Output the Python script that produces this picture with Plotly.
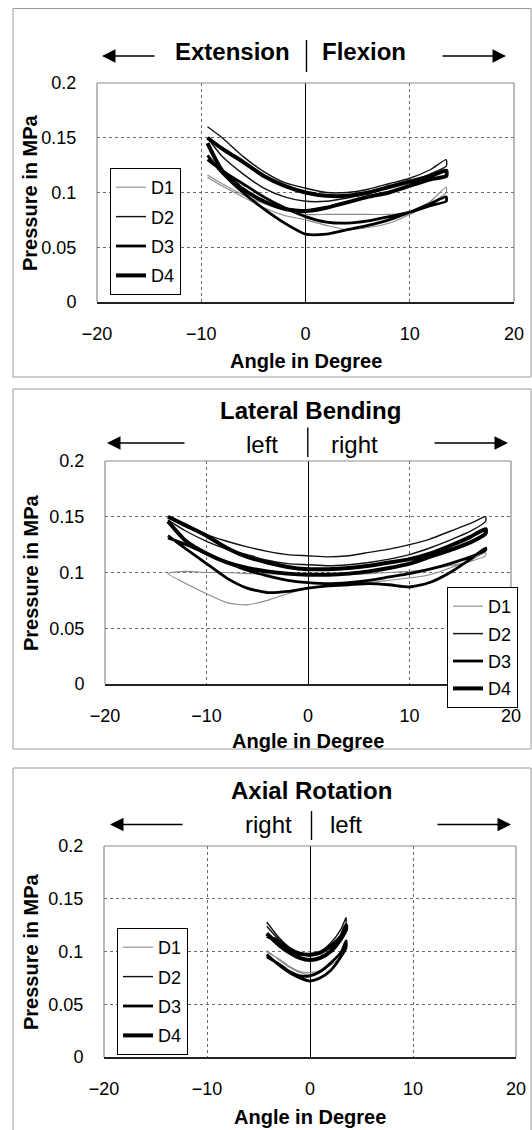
import plotly.graph_objects as go

W, H = 532, 1130

# ---------------- data ----------------
specimens = ["D1", "D2", "D3", "D4"]
x_ticks = [-20, -10, 0, 10, 20]
y_ticks = [0, 0.05, 0.1, 0.15, 0.2]
y_ticktext = ["0", "0.05", "0.1", "0.15", "0.2"]

# Panel 1: Extension / Flexion
fe_angle = [-9.4, -8, -6, -4, -2, 0, 2, 4, 6, 8, 10, 12, 13.5]
fe_d1_load = [0.116, 0.108, 0.098, 0.090, 0.084, 0.080, 0.080, 0.080, 0.080, 0.080, 0.082, 0.092, 0.105]
fe_d1_unload = [0.100, 0.090, 0.080, 0.072, 0.068, 0.066, 0.070, 0.075, 0.079, 0.086, 0.096, 0.106, 0.114]
fe_d2_load = [0.160, 0.150, 0.133, 0.119, 0.109, 0.104, 0.100, 0.100, 0.103, 0.108, 0.113, 0.121, 0.130]
fe_d2_unload = [0.124, 0.117, 0.110, 0.104, 0.099, 0.095, 0.092, 0.092, 0.096, 0.104, 0.117, 0.133, 0.150]
fe_d3_load = [0.134, 0.118, 0.100, 0.085, 0.072, 0.062, 0.062, 0.066, 0.070, 0.075, 0.082, 0.090, 0.096]
fe_d3_unload = [0.092, 0.088, 0.082, 0.078, 0.074, 0.072, 0.073, 0.078, 0.086, 0.096, 0.108, 0.120, 0.130]
fe_d4_load = [0.150, 0.140, 0.128, 0.115, 0.106, 0.100, 0.097, 0.097, 0.100, 0.105, 0.110, 0.115, 0.120]
fe_d4_unload = [0.115, 0.112, 0.106, 0.100, 0.096, 0.091, 0.086, 0.083, 0.085, 0.092, 0.103, 0.120, 0.145]

# Panel 2: Lateral Bending
lb_angle = [-13.8, -12, -10, -8, -6, -4, -2, 0, 2, 4, 6, 8, 10, 12, 14, 16, 17.5]
lb_d1_load = [0.099, 0.090, 0.081, 0.073, 0.071, 0.075, 0.081, 0.086, 0.088, 0.090, 0.091, 0.093, 0.095, 0.098, 0.104, 0.111, 0.118]
lb_d1_unload = [0.115, 0.110, 0.106, 0.103, 0.101, 0.100, 0.099, 0.098, 0.098, 0.098, 0.098, 0.099, 0.099, 0.100, 0.100, 0.101, 0.099]
lb_d2_load = [0.150, 0.141, 0.134, 0.128, 0.123, 0.119, 0.116, 0.115, 0.114, 0.115, 0.118, 0.121, 0.125, 0.130, 0.137, 0.144, 0.150]
lb_d2_unload = [0.146, 0.137, 0.129, 0.122, 0.116, 0.112, 0.109, 0.107, 0.106, 0.107, 0.108, 0.111, 0.116, 0.121, 0.128, 0.137, 0.147]
lb_d3_load = [0.133, 0.121, 0.108, 0.095, 0.086, 0.082, 0.083, 0.086, 0.088, 0.089, 0.090, 0.089, 0.087, 0.091, 0.100, 0.112, 0.122]
lb_d3_unload = [0.120, 0.114, 0.108, 0.103, 0.099, 0.096, 0.093, 0.091, 0.090, 0.091, 0.093, 0.097, 0.102, 0.109, 0.117, 0.125, 0.131]
lb_d4_load = [0.150, 0.142, 0.133, 0.122, 0.114, 0.109, 0.105, 0.103, 0.103, 0.104, 0.106, 0.109, 0.112, 0.117, 0.124, 0.132, 0.139]
lb_d4_unload = [0.135, 0.127, 0.120, 0.114, 0.108, 0.104, 0.101, 0.099, 0.098, 0.098, 0.099, 0.101, 0.104, 0.109, 0.117, 0.128, 0.146]

# Panel 3: Axial Rotation
ar_angle = [-4.2, -3, -2, -1, 0, 1, 2, 3, 3.5]
ar_d1_load = [0.101, 0.092, 0.085, 0.080, 0.078, 0.081, 0.088, 0.100, 0.108]
ar_d1_unload = [0.104, 0.095, 0.087, 0.082, 0.080, 0.081, 0.086, 0.093, 0.099]
ar_d2_load = [0.128, 0.113, 0.104, 0.099, 0.097, 0.100, 0.108, 0.121, 0.132]
ar_d2_unload = [0.127, 0.114, 0.105, 0.099, 0.096, 0.098, 0.103, 0.111, 0.124]
ar_d3_load = [0.097, 0.087, 0.080, 0.075, 0.072, 0.075, 0.082, 0.095, 0.104]
ar_d3_unload = [0.110, 0.099, 0.089, 0.081, 0.077, 0.077, 0.081, 0.088, 0.095]
ar_d4_load = [0.117, 0.106, 0.099, 0.094, 0.092, 0.094, 0.100, 0.112, 0.121]
ar_d4_unload = [0.125, 0.114, 0.105, 0.099, 0.097, 0.098, 0.102, 0.109, 0.115]

# ---------------- styling ----------------
FONT = "Liberation Sans, Arial, Helvetica, sans-serif"
line_style = {
    "D1": dict(color="#8a8a8a", width=1.1),
    "D2": dict(color="#111111", width=1.4),
    "D3": dict(color="#000000", width=2.8),
    "D4": dict(color="#000000", width=4.0),
}

def px_x(p):
    return p / W

def px_y(p):
    return 1 - p / H

# plot-area pixel boxes (left, right, top, bottom)
boxes = [
    (97, 514, 83, 302),
    (105, 511, 461, 684),
    (104, 516, 846, 1057),
]

panels = [
    (fe_angle, [(fe_d1_load, fe_d1_unload), (fe_d2_load, fe_d2_unload), (fe_d3_load, fe_d3_unload), (fe_d4_load, fe_d4_unload)]),
    (lb_angle, [(lb_d1_load, lb_d1_unload), (lb_d2_load, lb_d2_unload), (lb_d3_load, lb_d3_unload), (lb_d4_load, lb_d4_unload)]),
    (ar_angle, [(ar_d1_load, ar_d1_unload), (ar_d2_load, ar_d2_unload), (ar_d3_load, ar_d3_unload), (ar_d4_load, ar_d4_unload)]),
]

legend_pos = [(110, 168, 3), (447, 587, 1), (117, 928, 3)]

fig = go.Figure()
layout = dict(
    width=W, height=H, margin=dict(l=0, r=0, t=0, b=0, autoexpand=False),
    paper_bgcolor="white", plot_bgcolor="white",
    font=dict(family=FONT, size=18, color="black"),
    shapes=[], annotations=[],
)

for i, (angles, series) in enumerate(panels):
    k = "" if i == 0 else str(i + 1)
    xa, ya = "x" + k, "y" + k
    leg = "legend" + k
    for name, (load, unload) in zip(specimens, series):
        fig.add_trace(go.Scatter(
            x=list(angles) + list(reversed(angles)),
            y=list(load) + list(unload),
            mode="lines", name=name, line=dict(**line_style[name], shape="spline", smoothing=0.6),
            xaxis=xa, yaxis=ya, legend=leg, legendgroup=f"p{i}{name}",
        ))
    l, r, t, b = boxes[i]
    layout["xaxis" + k] = dict(
        domain=[px_x(l), px_x(r)], range=[-20, 20], anchor=ya,
        tickvals=x_ticks, showgrid=True, gridcolor="#6a6a6a", griddash="dot", gridwidth=1,
        zeroline=True, zerolinecolor="black", zerolinewidth=1.4,
        showline=True, linecolor="#222222", linewidth=1.6,
        ticks="outside", ticklen=15, tickcolor="rgba(0,0,0,0)",
        tickfont=dict(size=18, family=FONT), fixedrange=True, automargin=False,
    )
    layout["yaxis" + k] = dict(
        domain=[px_y(b), px_y(t)], range=[0, 0.2], anchor=xa,
        tickvals=y_ticks, ticktext=y_ticktext,
        showgrid=True, gridcolor="#6a6a6a", griddash="dot", gridwidth=1,
        zeroline=False, showline=False,
        ticks="outside", ticklen=16, tickcolor="rgba(0,0,0,0)",
        tickfont=dict(size=18, family=FONT), fixedrange=True, automargin=False,
    )
    # plot-area border: left, top, right (grey)
    for (x0, y0, x1, y1) in [(0, 0, 0, 1), (0, 1, 1, 1), (1, 0, 1, 1)]:
        layout["shapes"].append(dict(
            type="line", xref=xa + " domain", yref=ya + " domain",
            x0=x0, y0=y0, x1=x1, y1=y1, line=dict(color="#8c8c8c", width=1.2),
        ))
    lx, ly, gap = legend_pos[i]
    layout[leg] = dict(
        x=px_x(lx), y=px_y(ly), xanchor="left", yanchor="top", xref="paper", yref="paper",
        bgcolor="white", bordercolor="black", borderwidth=1,
        font=dict(size=18, family=FONT), tracegroupgap=gap, itemclick=False,
    )
    # axis titles
    layout["annotations"].append(dict(
        text="<b>Pressure in MPa</b>", textangle=-90, xref="paper", yref="paper",
        x=px_x(30.5), y=px_y((t + b) / 2), showarrow=False,
        font=dict(size=20, family=FONT), xanchor="center", yanchor="middle",
    ))

# x-axis titles
for cx, cy in [(305.5, 361), (307.8, 741), (310, 1117)]:
    layout["annotations"].append(dict(
        text="<b>Angle in Degree</b>", xref="paper", yref="paper",
        x=px_x(cx), y=px_y(cy), showarrow=False, font=dict(size=20, family=FONT),
        xanchor="center", yanchor="middle",
    ))

def text(s, x, y, anchor, size=24, bold=False):
    layout["annotations"].append(dict(
        text=f"<b>{s}</b>" if bold else s, xref="paper", yref="paper",
        x=px_x(x), y=px_y(y), showarrow=False, font=dict(size=size, family=FONT),
        xanchor=anchor, yanchor="middle",
    ))

def arrow(head_x, tail_x, y):
    layout["annotations"].append(dict(
        text="", xref="paper", yref="paper", x=px_x(head_x), y=px_y(y),
        ax=tail_x - head_x, ay=0, showarrow=True, arrowhead=2, arrowsize=1.8,
        arrowwidth=1.5, arrowcolor="black", standoff=0,
    ))

def vbar(x, y0, y1):
    layout["shapes"].append(dict(
        type="line", xref="paper", yref="paper", x0=px_x(x), x1=px_x(x),
        y0=px_y(y0), y1=px_y(y1), line=dict(color="black", width=1.4),
    ))

# Panel 1 header
text("Extension", 292, 51, "right", 24, True)
text("Flexion", 320.5, 51, "left", 24, True)
vbar(306.5, 40, 72)
arrow(102, 156, 56)
arrow(506, 441, 56)

# Panel 2 header
text("Lateral Bending", 310.5, 410.5, "center", 24, True)
text("left", 280, 444.5, "right", 24)
text("right", 329, 444.5, "left", 24)
vbar(307.8, 427.5, 457)
arrow(107, 186, 443)
arrow(508, 433, 443)

# Panel 3 header
text("Axial Rotation", 311.5, 790.5, "center", 24, True)
text("right", 293.5, 824.5, "right", 24)
text("left", 328.5, 824.5, "left", 24)
vbar(311.5, 811, 840)
arrow(110, 184, 824.5)
arrow(511, 436, 824.5)

# outer panel frames (grey)
def frame(top, bottom, closed=True):
    segs = [(13, top, 531, top), (13, top, 13, bottom), (531, top, 531, bottom)]
    if closed:
        segs.append((13, bottom, 531, bottom))
    for (x0, y0, x1, y1) in segs:
        layout["shapes"].append(dict(
            type="line", xref="paper", yref="paper", x0=px_x(x0), x1=px_x(x1),
            y0=px_y(y0), y1=px_y(y1), line=dict(color="#9a9a9a", width=1),
        ))

frame(8.5, 377)
frame(389, 749)
frame(768, 1130, closed=False)

fig.update_layout(**layout)
fig.write_html(
    "out.html",
    config={"displayModeBar": False},
    post_script="document.body.style.margin='0px';document.body.style.padding='0px';"
                "document.documentElement.style.overflow='hidden';",
)
